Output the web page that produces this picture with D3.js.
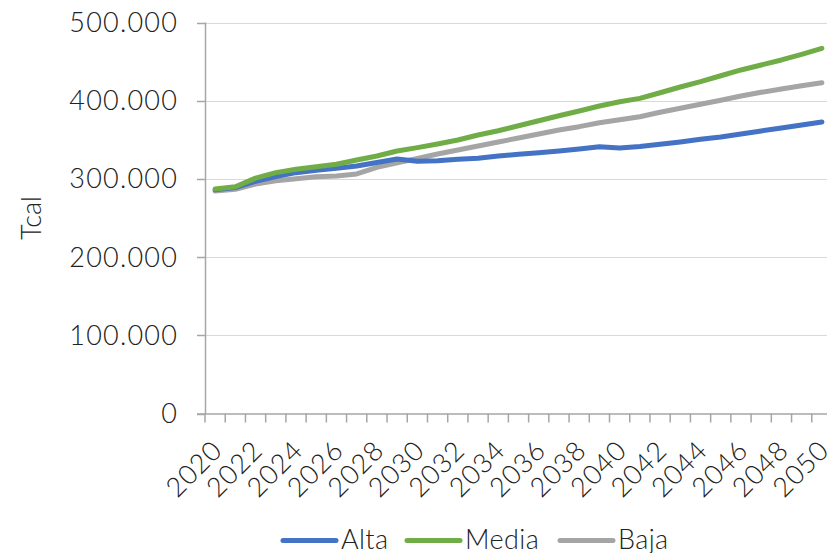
<!DOCTYPE html>
<html><head><meta charset="utf-8">
<script src="https://cdn.jsdelivr.net/npm/d3@7"></script>
<style>
html,body{margin:0;padding:0;background:#fff;overflow:hidden}
svg{display:block}
text{font-family:"Lato","Open Sans",sans-serif;font-weight:300;fill:#222}
</style></head>
<body>
<svg id="c" width="827" height="553"></svg>
<script>
const years = d3.range(2020, 2051);
const yearLabels = years.filter(y => (y - 2020) % 2 === 0);
const alta = [286,289,297,303,308,311,313.5,316.5,321,325.5,322.5,323.3,325,326.3,329.3,331.5,333.5,335.7,338.2,341.2,339.5,341.4,344.2,347.2,350.6,353.6,357.4,361.3,365.1,369,372.8].map(v=>v*1000);
const media = [287,290,301,308,312.3,315.6,318.7,324.2,329.3,335.7,340,344.6,349.7,356.1,361.6,368,374.4,380.8,386.8,393.2,398.7,403,410.2,417.5,424.3,431.9,439.3,445.7,452.1,459.3,467].map(v=>v*1000);
const baja = [284.5,286.7,293.5,297.7,300.3,302.8,303.7,306.3,314.8,320.7,326,331.8,337,342,347.2,352.3,357.4,362.5,366.8,371.9,375.6,379.5,385.2,390.3,395.4,400.5,406,410.7,415,419.2,423].map(v=>v*1000);
const yTicks = [0,100000,200000,300000,400000,500000];
const seriesNames = ["Alta","Media","Baja"];
const seriesColors = ["#4472C4","#70AD47","#A5A5A5"];
const seriesData = [alta, media, baja];
const yTitle = "Tcal";

const svg = d3.select("#c");
const pLeft = 205, pRight = 832, pTop = 22.5, pBottom = 413.5;
const x = d3.scaleBand().domain(years).range([pLeft, pRight]);
const xc = d => x(d) + x.bandwidth()/2;
const y = d3.scaleLinear().domain([0,500000]).range([pBottom, pTop]);
const loc = d3.formatLocale({thousands:".", decimal:",", grouping:[3], currency:["",""]});
const fmt = loc.format(",");

// gridlines
svg.append("g").selectAll("line").data(yTicks.filter(t=>t>0)).join("line")
  .attr("x1", pLeft).attr("x2", pRight)
  .attr("y1", d=>Math.round(y(d))+0.5).attr("y2", d=>Math.round(y(d))+0.5)
  .attr("stroke","#d9d9d9").attr("stroke-width",1);

// y axis
const yAxis = svg.append("g");
yAxis.append("line").attr("x1",pLeft+0.5).attr("x2",pLeft+0.5).attr("y1",y(500000)).attr("y2",pBottom)
  .attr("stroke","#a6a6a6").attr("stroke-width",1.5);
yAxis.selectAll("line.t").data(yTicks).join("line").attr("class","t")
  .attr("x1",pLeft-8).attr("x2",pLeft)
  .attr("y1",d=>Math.round(y(d))+0.5).attr("y2",d=>Math.round(y(d))+0.5)
  .attr("stroke","#a6a6a6").attr("stroke-width",1.5);
yAxis.selectAll("text").data(yTicks).join("text")
  .attr("x",178).attr("y",d=>y(d)).attr("dy","0.35em")
  .attr("text-anchor","end").attr("font-size",27).attr("letter-spacing","1.2")
  .text(d=>fmt(d));

// x axis
const xAxis = svg.append("g");
xAxis.append("line").attr("x1",pLeft-8).attr("x2",pRight).attr("y1",pBottom+0.5).attr("y2",pBottom+0.5)
  .attr("stroke","#a6a6a6").attr("stroke-width",1.5);
xAxis.selectAll("line.t").data(years.concat([2051])).join("line").attr("class","t")
  .attr("x1",d=>d===2051? pRight : x(d)).attr("x2",d=>d===2051? pRight : x(d))
  .attr("y1",pBottom).attr("y2",pBottom+9)
  .attr("stroke","#a6a6a6").attr("stroke-width",1.5);
xAxis.selectAll("text").data(yearLabels).join("text")
  .attr("transform",d=>`translate(${xc(d)+2},${pBottom+32})  rotate(-45)`)
  .attr("text-anchor","end").attr("dy","0.35em").attr("font-size",27).attr("letter-spacing","0.8")
  .text(d=>d);

// y title
svg.append("text").attr("transform","translate(32,218) rotate(-90)")
  .attr("text-anchor","middle").attr("dy","0.35em").attr("font-size",27).text(yTitle);

// lines
const line = d3.line().x((d,i)=>xc(years[i])).y(d=>y(d));
svg.append("g").selectAll("path").data([baja, alta, media]).join("path")
  .attr("d",d=>line(d)).attr("fill","none")
  .attr("stroke",d=>seriesColors[seriesData.indexOf(d)])
  .attr("stroke-width",5).attr("stroke-linecap","round").attr("stroke-linejoin","round");

// legend
const legX = [283, 407, 560];
const leg = svg.append("g");
seriesNames.forEach((n,i)=>{
  leg.append("line").attr("x1",legX[i]).attr("x2",legX[i]+53).attr("y1",540.5).attr("y2",540.5)
    .attr("stroke",seriesColors[i]).attr("stroke-width",5).attr("stroke-linecap","round");
  leg.append("text").attr("x",legX[i]+58).attr("y",540).attr("dy","0.35em")
    .attr("font-size",27).attr("letter-spacing","0.4").text(n);
});
</script>
</body></html>
